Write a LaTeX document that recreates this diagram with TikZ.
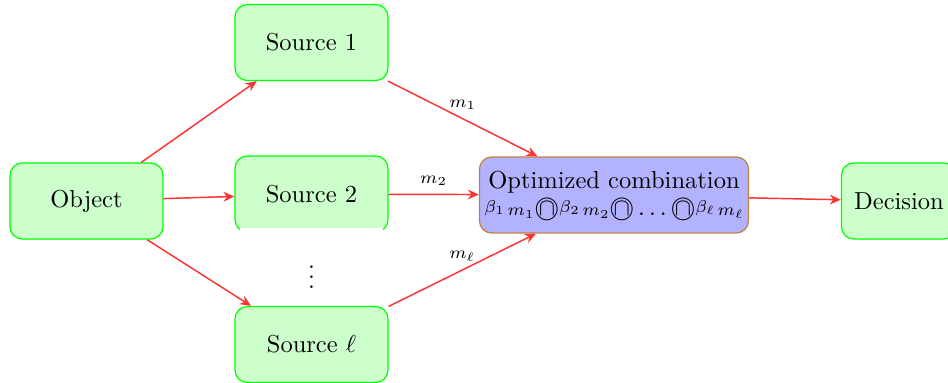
\documentclass[tikz,border=0pt]{standalone}
\usetikzlibrary{arrows.meta}
\newcommand{\ocapsym}{\mathord{\ooalign{$\bigcirc$\cr\hidewidth\raisebox{0.3pt}{$\cap$}\hidewidth\cr}}}
\newcommand{\bmpair}[1]{\raisebox{1.5pt}{$\scriptstyle\beta_{#1}$}\mkern2mu{\scriptstyle m_{#1}}}
\begin{document}
\begin{tikzpicture}[x=0.408pt,y=-0.408pt,
  box/.style={draw=green, fill=green!20, rounded corners=5pt, line width=0.5pt,
    minimum width=62.4pt, minimum height=31pt, inner sep=5pt},
  optbox/.style={draw=brown, fill=blue!30, rounded corners=5pt, line width=0.5pt,
    minimum width=108.5pt, minimum height=31pt, align=center, inner sep=2pt},
  arr/.style={draw=red!80, semithick, -{Stealth[length=4.5pt,width=4pt]}},
  lab/.style={font=\scriptsize, midway, above}]
\useasboundingbox (0,0) rectangle (948,383);
\node[box] (obj) at (86.5,201) {Object};
\node[box] (s1) at (311.5,42.5) {Source 1};
\node[box] (s2) at (311.5,194) {Source 2};
\node[fill=white, minimum width=58pt, minimum height=34pt, inner sep=0pt] (dots) at (311.5,270) {$\vdots$};
\node[box] (sl) at (311.5,344.5) {Source $\ell$};
\node[optbox] (opt) at (614,195) {Optimized combination\\[-1pt]
  $\bmpair{1}\ocapsym\bmpair{2}\ocapsym\ldots\ocapsym\bmpair{\ell}$};
\node[box, minimum width=47pt] (dec) at (899,201) {Decision};
\draw[arr] (obj) -- (s1);
\draw[arr] (obj) -- (s2);
\draw[arr] (obj) -- (sl);
\draw[arr] (s1) -- node[lab] {$m_1$} (opt);
\draw[arr] (s2) -- node[lab] {$m_2$} (opt);
\draw[arr] (sl) -- node[lab] {$m_\ell$} (opt);
\draw[arr] (opt) -- (dec);
\end{tikzpicture}
\end{document}
